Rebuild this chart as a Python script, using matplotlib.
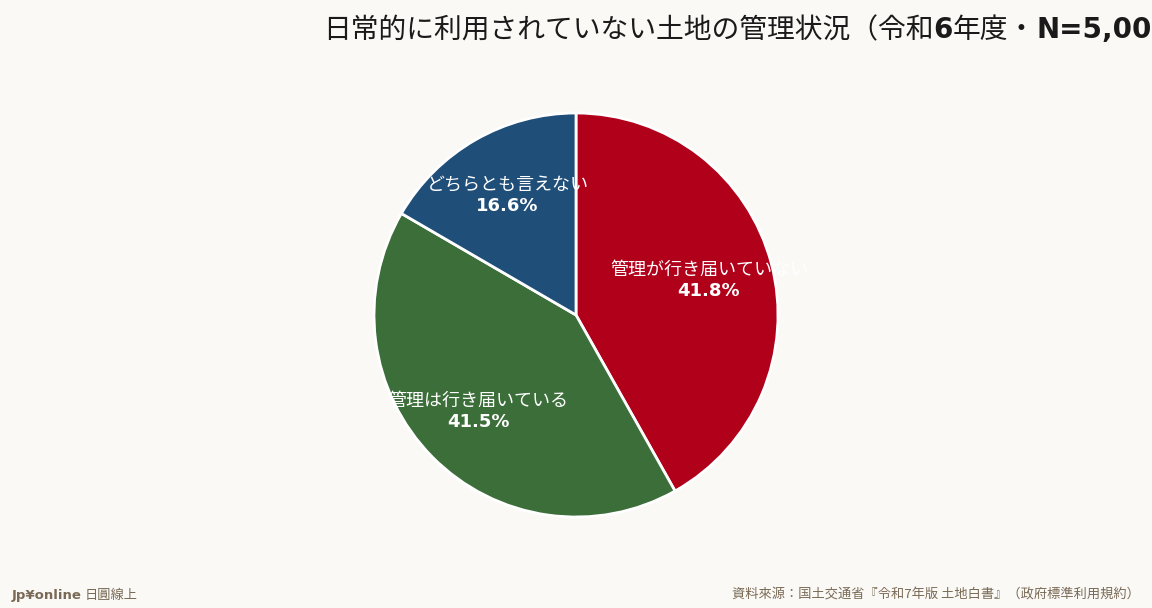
import numpy as np
import matplotlib
matplotlib.use('Agg')
from matplotlib import pyplot as plt

plt.rcParams['font.family'] = ['DejaVu Sans', 'Noto Sans CJK JP']

labels = ['管理が行き届いていない', '管理は行き届いている', 'どちらとも言えない']
values = [41.8, 41.5, 16.6]
colors = ['#B0001A', '#3C6E3A', '#1F4E79']

# title pieces: (text, bold)
title_parts = [('日常的に利用されていない土地の管理状況（令和', False), ('6', True),
               ('年度・', False), ('N=5,000', True), ('）', False)]
source = '資料來源：国土交通省『令和7年版 土地白書』（政府標準利用規約）'
bg = '#FAF9F6'
cjk = 'Noto Sans CJK JP'

W, H = 1152, 608
cx, cy, rad = 576, 315, 202

fig = plt.figure(figsize=(W/100, H/100), dpi=100, facecolor=bg)
ax = fig.add_axes((0, 0, 1, 1))
ax.set_facecolor(bg)

wedges, _ = ax.pie(values, colors=colors, startangle=90, counterclock=False,
                   wedgeprops=dict(edgecolor='white', linewidth=2))

ax.set_xlim(-cx/rad, (W-cx)/rad)
ax.set_ylim(-(H-cy)/rad, cy/rad)
ax.set_aspect('auto')
ax.axis('off')

for w, lab, v in zip(wedges, labels, values):
    ang = np.deg2rad((w.theta1 + w.theta2)/2)
    x, y = 0.68*np.cos(ang), 0.68*np.sin(ang)
    ax.text(x, y + 0.052, lab, ha='center', va='center', color='white', fontsize=13,
            family=[cjk, 'DejaVu Sans'])
    ax.text(x, y - 0.052, f'{v:.1f}%', ha='center', va='center', color='white',
            fontsize=13, fontweight='bold')

# title drawn piece by piece: CJK regular, numbers bold
renderer = fig.canvas.get_renderer()
xpos = 323
for txt, bold in title_parts:
    fam = 'DejaVu Sans' if bold else cjk
    t = fig.text(xpos/W, 1 - 27/H, txt, ha='left', va='center_baseline', fontsize=20,
                 fontweight='bold' if bold else 'normal', color='#1a1a1a', family=fam)
    xpos += t.get_window_extent(renderer).width

fig.text(12/W, 1 - 595/H, 'Jp¥online', ha='left', va='center', fontsize=9.5,
         fontweight='bold', color='#7A6A55')
fig.text(85/W, 1 - 595/H, '日圓線上', ha='left', va='center', fontsize=9.5,
         color='#7A6A55', family=cjk)
fig.text(1140/W, 1 - 595/H, source, ha='right', va='center', fontsize=9.5,
         color='#7A6A55', family=[cjk, 'DejaVu Sans'])

fig.savefig('out.png', dpi=100, facecolor=bg)
